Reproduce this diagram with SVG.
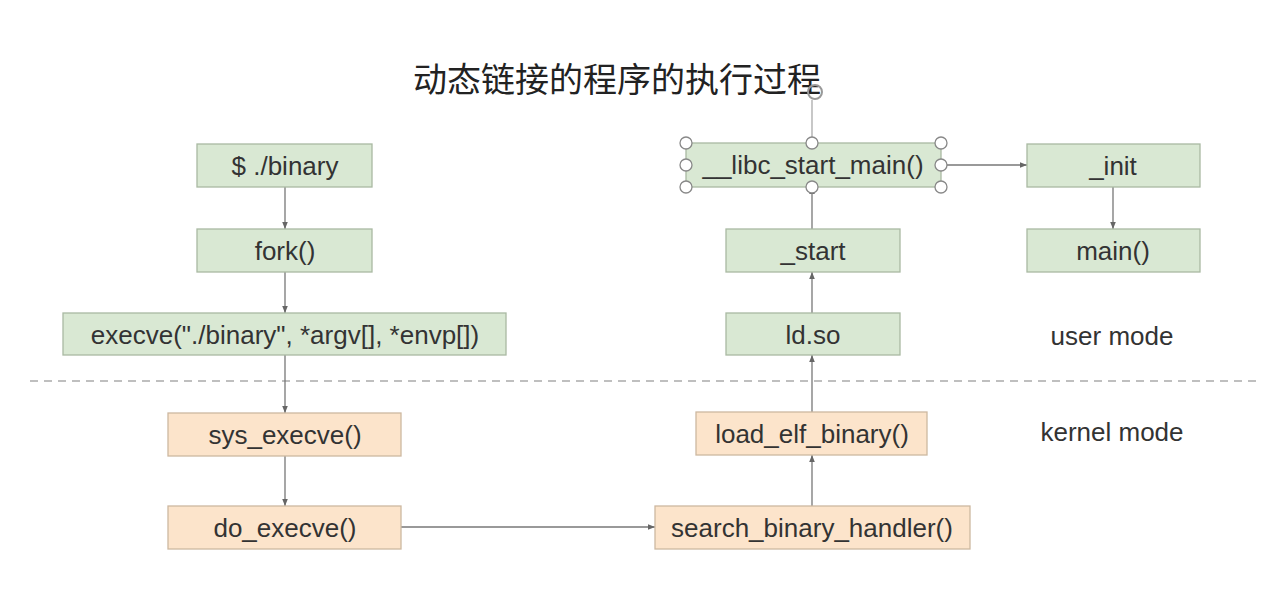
<svg xmlns="http://www.w3.org/2000/svg" width="1273" height="613" viewBox="0 0 1273 613">
<style>
.g{fill:#d9e8d3;stroke:#a9b9a2;stroke-width:1.3}
.o{fill:#fce4cb;stroke:#cdb8a0;stroke-width:1.3}
.t{font-family:"Liberation Sans",Arial,sans-serif;font-size:26px;fill:#333;text-anchor:middle;dominant-baseline:central}
.c{stroke:#777;stroke-width:1.3;fill:none;marker-end:url(#a)}
.h{fill:#fff;stroke:#888;stroke-width:1.3}
</style>
<defs>
<marker id="a" viewBox="0 0 10 10" refX="10" refY="5" markerWidth="7" markerHeight="7" orient="auto" markerUnits="userSpaceOnUse"><path d="M0,1 L10,5 L0,9 z" fill="#666"/></marker>
</defs>
<rect width="1273" height="613" fill="#fff"/>
<text x="617" y="77" font-family="'Noto Sans CJK SC',sans-serif" font-size="34" fill="#222" text-anchor="middle" dominant-baseline="central">动态链接的程序的执行过程</text>
<line x1="30" y1="381" x2="1260" y2="381" stroke="#aaa" stroke-width="1.3" stroke-dasharray="8,6"/>
<text class="t" x="1112" y="336">user mode</text>
<text class="t" x="1112" y="432">kernel mode</text>
<g id="connectors">
<line class="c" x1="285" y1="187" x2="285" y2="229"/>
<line class="c" x1="285" y1="272" x2="285" y2="313"/>
<line class="c" x1="285" y1="355" x2="285" y2="413"/>
<line class="c" x1="285" y1="456" x2="285" y2="506"/>
<line class="c" x1="401" y1="527" x2="655" y2="527"/>
<line class="c" x1="812" y1="506" x2="812" y2="455"/>
<line class="c" x1="812" y1="412" x2="812" y2="355"/>
<line class="c" x1="812" y1="313" x2="812" y2="272"/>
<line class="c" x1="812" y1="229" x2="812" y2="187"/>
<line class="c" x1="941" y1="165" x2="1027" y2="165"/>
<line class="c" x1="1113" y1="187" x2="1113" y2="229"/>
</g>
<g id="n1"><rect class="g" x="197" y="144" width="175" height="43"/><text class="t" x="285" y="166">$ ./binary</text></g>
<g id="n2"><rect class="g" x="197" y="229" width="175" height="43"/><text class="t" x="285" y="251">fork()</text></g>
<g id="n3"><rect class="g" x="63" y="313" width="443" height="42"/><text class="t" x="285" y="335">execve("./binary", *argv[], *envp[])</text></g>
<g id="n4"><rect class="o" x="168" y="413" width="233" height="43"/><text class="t" x="285" y="435">sys_execve()</text></g>
<g id="n5"><rect class="o" x="168" y="506" width="233" height="43"/><text class="t" x="285" y="528">do_execve()</text></g>
<g id="n6"><rect class="o" x="655" y="506" width="315" height="43"/><text class="t" x="812" y="528">search_binary_handler()</text></g>
<g id="n7"><rect class="o" x="696" y="412" width="231" height="43"/><text class="t" x="812" y="434">load_elf_binary()</text></g>
<g id="n8"><rect class="g" x="726" y="313" width="174" height="42"/><text class="t" x="813" y="335">ld.so</text></g>
<g id="n9"><rect class="g" x="726" y="229" width="174" height="43"/><text class="t" x="813" y="251">_start</text></g>
<g id="n10"><rect class="g" x="686" y="143" width="255" height="44"/><text class="t" x="813" y="165">__libc_start_main()</text></g>
<g id="n11"><rect class="g" x="1027" y="144" width="173" height="43"/><text class="t" x="1113" y="166">_init</text></g>
<g id="n12"><rect class="g" x="1027" y="229" width="173" height="43"/><text class="t" x="1113" y="251">main()</text></g>
<g id="selection">
<line x1="812" y1="100" x2="812" y2="143" stroke="#aaa" stroke-width="1.3"/>
<circle cx="815" cy="92" r="7" fill="none" stroke="#999" stroke-width="2"/>
<circle class="h" cx="686" cy="143" r="6"/><circle class="h" cx="812" cy="143" r="6"/><circle class="h" cx="941" cy="143" r="6"/>
<circle class="h" cx="686" cy="165" r="6"/><circle class="h" cx="941" cy="165" r="6"/>
<circle class="h" cx="686" cy="187" r="6"/><circle class="h" cx="812" cy="187" r="6"/><circle class="h" cx="941" cy="187" r="6"/>
</g>
</svg>
